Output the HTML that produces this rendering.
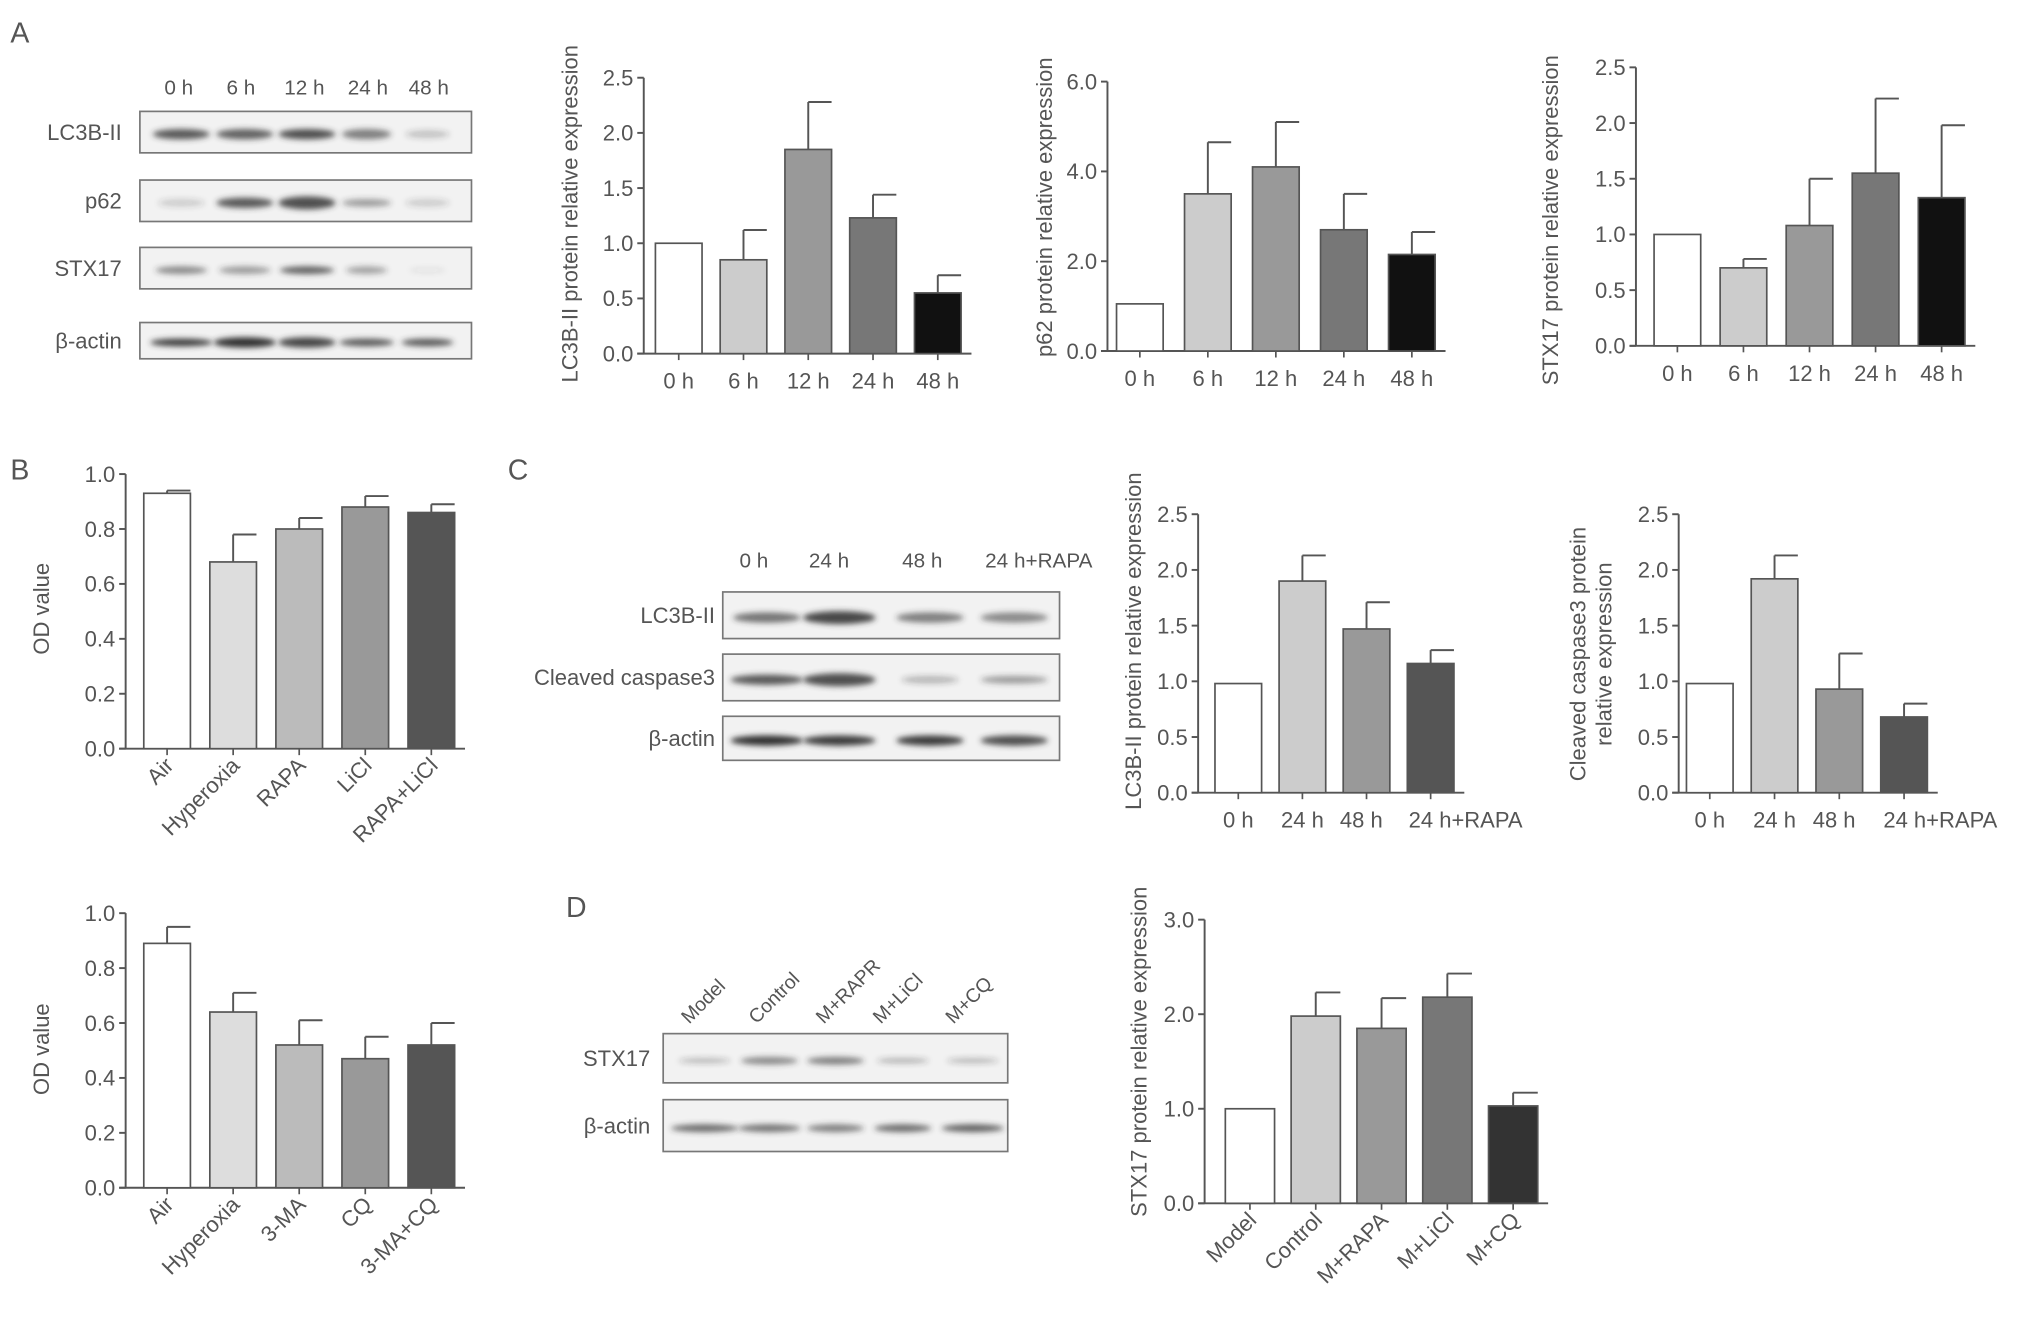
<!DOCTYPE html>
<html><head><meta charset="utf-8"><style>
html,body{margin:0;padding:0;background:#fff;}
svg{display:block;font-family:"Liberation Sans",sans-serif;}
</style></head><body>
<svg id="fig" width="2031" height="1323" viewBox="0 0 1568 1021.4" preserveAspectRatio="none" xmlns="http://www.w3.org/2000/svg">
<defs><filter id="blur" x="-20%" y="-100%" width="140%" height="300%"><feGaussianBlur stdDeviation="2.2"/></filter></defs>
<g id="static" fill="#555" font-size="22">
<text x="8" y="33">A</text>
<text x="8" y="370">B</text>
<text x="392" y="370">C</text>
<text x="437" y="708">D</text>
</g>
<g id="blots"></g>
<g id="charts"></g>
</svg>
<script>
// ---------- Chart data ----------
const timeCats = ["0 h","6 h","12 h","24 h","48 h"];
const lc3Vals = [1.0, 0.85, 1.85, 1.23, 0.55];
const lc3Errs = [0, 0.27, 0.43, 0.21, 0.16];
const p62Vals = [1.05, 3.5, 4.1, 2.7, 2.15];
const p62Errs = [0, 1.15, 1.0, 0.8, 0.5];
const stxVals = [1.0, 0.7, 1.08, 1.55, 1.33];
const stxErrs = [0, 0.08, 0.42, 0.67, 0.65];
const odCats1 = ["Air","Hyperoxia","RAPA","LiCl","RAPA+LiCl"];
const od1Vals = [0.93, 0.68, 0.80, 0.88, 0.86];
const od1Errs = [0.01, 0.10, 0.04, 0.04, 0.03];
const odCats2 = ["Air","Hyperoxia","3-MA","CQ","3-MA+CQ"];
const od2Vals = [0.89, 0.64, 0.52, 0.47, 0.52];
const od2Errs = [0.06, 0.07, 0.09, 0.08, 0.08];
const cCats = ["0 h","24 h","48 h","24 h+RAPA"];
const cLc3Vals = [0.98, 1.9, 1.47, 1.16];
const cLc3Errs = [0, 0.23, 0.24, 0.12];
const cCasVals = [0.98, 1.92, 0.93, 0.68];
const cCasErrs = [0, 0.21, 0.32, 0.12];
const dCats = ["Model","Control","M+RAPA","M+LiCl","M+CQ"];
const dVals = [1.0, 1.98, 1.85, 2.18, 1.03];
const dErrs = [0, 0.25, 0.32, 0.25, 0.14];
const ticks25 = [0, 0.5, 1.0, 1.5, 2.0, 2.5];
const ticks6 = [0, 2, 4, 6];
const ticks1 = [0, 0.2, 0.4, 0.6, 0.8, 1.0];
const ticks3 = [0, 1, 2, 3];

const NS = "http://www.w3.org/2000/svg";
function mk(tag, attrs, parent){const e=document.createElementNS(NS,tag);for(const k in attrs)e.setAttribute(k,attrs[k]);parent.appendChild(e);return e;}

function chart(cfg){
  const g = mk("g",{},document.getElementById("charts"));
  
  
  const ymax = cfg.ticks[cfg.ticks.length-1];
  const y = v => cfg.y0 - (v/ymax)*(cfg.y0-cfg.yTop);
  const x = i => cfg.x0 + cfg.first + i*cfg.step;
  const ya = mk("line",{x1:cfg.x0,y1:cfg.yTop,x2:cfg.x0,y2:cfg.y0,stroke:"#555","stroke-width":1.5},g);
  
  
  const xEnd = x(cfg.cats.length-1)+cfg.bw/2+8;
  const xa = mk("line",{x1:cfg.x0-5,y1:cfg.y0,x2:xEnd,y2:cfg.y0,stroke:"#555","stroke-width":1.5},g);
  
  
  cfg.ticks.forEach(t=>{
    mk("line",{x1:cfg.x0-5,y1:y(t),x2:cfg.x0,y2:y(t),stroke:"#555","stroke-width":1.5},g);
    const tl = mk("text",{x:cfg.x0-8,y:y(t)+6,"text-anchor":"end","font-size":17,fill:"#555"},g);
    
    
    tl.textContent = t.toFixed(1);
  });
  cfg.cats.forEach((c,i)=>{
    const v = cfg.vals[i], e = cfg.errs[i], cx = x(i);
    if(e>0){
      const el = mk("line",{x1:cx,y1:y(v),x2:cx,y2:y(v+e),stroke:"#555","stroke-width":1.5},g);
      
      
      mk("line",{x1:cx,y1:y(v+e),x2:cx+cfg.bw/2,y2:y(v+e),stroke:"#555","stroke-width":1.5},g);
    }
    const r = mk("rect",{x:cx-cfg.bw/2,y:y(v),width:cfg.bw,height:cfg.y0-y(v),fill:cfg.colors[i],stroke:"#555","stroke-width":1.3},g);
    
    
    mk("line",{x1:cx,y1:cfg.y0,x2:cx,y2:cfg.y0+5,stroke:"#555","stroke-width":1.3},g);
    const lab = mk("text",{"font-size":17,fill:"#555"},g);
    
    
    lab.textContent = c;
    if(cfg.rot){
      lab.setAttribute("text-anchor","end");
      lab.setAttribute("transform","translate("+(cx+6)+","+(cfg.y0+14)+") rotate(-45)");
    } else {
      const dx = (cfg.labelDx && cfg.labelDx[i]) || 0;
      lab.setAttribute("text-anchor","middle");
      lab.setAttribute("x",cx+dx); lab.setAttribute("y",cfg.y0+27);
    }
  });
  cfg.title.forEach((t,k)=>{
    const tt = mk("text",{"text-anchor":"middle","font-size":17,fill:"#555",transform:"translate("+(cfg.tx+k*20)+","+cfg.ty+") rotate(-90)"},g);
    
    
    tt.textContent = t;
  });
}
const c5 = ["#fff","#ccc","#999","#777","#111"];
chart({name:"chart-lc3b",cats:timeCats,vals:lc3Vals,errs:lc3Errs,ticks:ticks25,x0:497,y0:273,yTop:60,first:27,step:50,bw:36,colors:c5,title:["LC3B-II protein relative expression"],tx:446,ty:165});
chart({name:"chart-p62",cats:timeCats,vals:p62Vals,errs:p62Errs,ticks:ticks6,x0:855,y0:271,yTop:63,first:25,step:52.5,bw:36,colors:c5,title:["p62 protein relative expression"],tx:812,ty:160});
chart({name:"chart-stx17-a",cats:timeCats,vals:stxVals,errs:stxErrs,ticks:ticks25,x0:1263,y0:267,yTop:52,first:32,step:51,bw:36,colors:["#fff","#ccc","#999","#777","#111"],title:["STX17 protein relative expression"],tx:1203,ty:170});
chart({name:"chart-od-1",cats:odCats1,vals:od1Vals,errs:od1Errs,ticks:ticks1,x0:97,y0:578,yTop:366,first:32,step:51,bw:36,colors:["#fff","#ddd","#bbb","#999","#555"],title:["OD value"],tx:38,ty:470,rot:true});
chart({name:"chart-od-2",cats:odCats2,vals:od2Vals,errs:od2Errs,ticks:ticks1,x0:97,y0:917,yTop:705,first:32,step:51,bw:36,colors:["#fff","#ddd","#bbb","#999","#555"],title:["OD value"],tx:38,ty:810,rot:true});
chart({name:"chart-lc3b-c",cats:cCats,vals:cLc3Vals,errs:cLc3Errs,ticks:ticks25,x0:925,y0:612,yTop:397,first:31,step:49.5,bw:36,colors:["#fff","#ccc","#999","#555"],title:["LC3B-II protein relative expression"],tx:881,ty:495,labelDx:[0,0,-4,27]});
chart({name:"chart-caspase3",cats:cCats,vals:cCasVals,errs:cCasErrs,ticks:ticks25,x0:1296,y0:612,yTop:397,first:24,step:50,bw:36,colors:["#fff","#ccc","#999","#555"],title:["Cleaved caspase3 protein","relative expression"],tx:1224,ty:505,labelDx:[0,0,-4,28]});
chart({name:"chart-stx17-d",cats:dCats,vals:dVals,errs:dErrs,ticks:ticks3,x0:930,y0:929,yTop:710,first:35,step:50.8,bw:38,colors:["#fff","#ccc","#999","#777","#333"],title:["STX17 protein relative expression"],tx:885,ty:812,rot:true});

// ---------- Blots (images, not data) ----------
function blot(name,label,x,y,w,h,bands,lx){
  const B=document.getElementById("blots");
  const g=mk("g",{},B);
  
  
  mk("rect",{x:x,y:y,width:w,height:h,fill:"#f2f2f2",stroke:"#777","stroke-width":1.3},g);
  bands.forEach(b=>{mk("ellipse",{cx:b[0],cy:y+h*0.55,rx:b[1],ry:b[2]||4,fill:"#333","fill-opacity":b[3],filter:"url(#blur)"},g);});
  const t=mk("text",{x:lx,y:y+h/2+6,"text-anchor":"end","font-size":17,fill:"#555"},g);
  
  
  t.textContent=label;
}
const ac=[140,189,237,283,330];
blot("blot-lc3b","LC3B-II",108,86,256,32,[[ac[0],22,4,.8],[ac[1],22,4,.75],[ac[2],22,4,.85],[ac[3],19,4,.6],[ac[4],17,3,.25]],94);
blot("blot-p62","p62",108,139,256,32,[[ac[0],18,3,.2],[ac[1],22,4,.8],[ac[2],22,5,.85],[ac[3],19,3,.45],[ac[4],17,3,.2]],94);
blot("blot-stx17","STX17",108,191,256,32,[[ac[0],20,3,.55],[ac[1],20,3,.45],[ac[2],21,3,.75],[ac[3],16,3,.4],[ac[4],14,2,.08]],94);
blot("blot-actin-a","β-actin",108,249,256,28,[[ac[0],24,3,.95],[ac[1],24,4,1],[ac[2],22,4,.9],[ac[3],21,3,.8],[ac[4],20,3,.8]],94);
const cc=[592,648,718,783];
blot("blot-lc3b-c","LC3B-II",558,457,260,36,[[cc[0],26,4,.65],[cc[1],28,5,.9],[cc[2],26,4,.6],[cc[3],26,4,.55]],552);
blot("blot-caspase3","Cleaved caspase3",558,505,260,36,[[cc[0],28,4,.8],[cc[1],28,5,.85],[cc[2],22,3,.3],[cc[3],26,3,.45]],552);
blot("blot-actin-c","β-actin",558,553,260,34,[[cc[0],28,4,1],[cc[1],28,4,.95],[cc[2],26,4,.95],[cc[3],26,4,.85]],552);
const dc=[544,594,645,697,751];
blot("blot-stx17-d","STX17",512,798,266,38,[[dc[0],20,2,.3],[dc[1],22,3,.55],[dc[2],22,3,.6],[dc[3],20,2,.35],[dc[4],20,2,.3]],502);
blot("blot-actin-d","β-actin",512,849,266,40,[[dc[0],26,3,.7],[dc[1],24,3,.65],[dc[2],22,3,.6],[dc[3],22,3,.7],[dc[4],24,3,.75]],502);
const BL=document.getElementById("blots");
function lane(txt,x,y,rot){const t=mk("text",{"font-size":rot?15:16,fill:"#555","text-anchor":rot?"start":"middle",transform:"translate("+x+","+y+")"+(rot?" rotate(-45)":"")},BL);
  
  
  t.textContent=txt;}
["0 h","6 h","12 h","24 h","48 h"].forEach((s,i)=>lane(s,[138,186,235,284,331][i],73,false));
["0 h","24 h","48 h","24 h+RAPA"].forEach((s,i)=>lane(s,[582,640,712,802][i],438,false));
["Model","Control","M+RAPR","M+LiCl","M+CQ"].forEach((s,i)=>lane(s,[532,584,636,680,736][i],791,true));
</script>
</body></html>
